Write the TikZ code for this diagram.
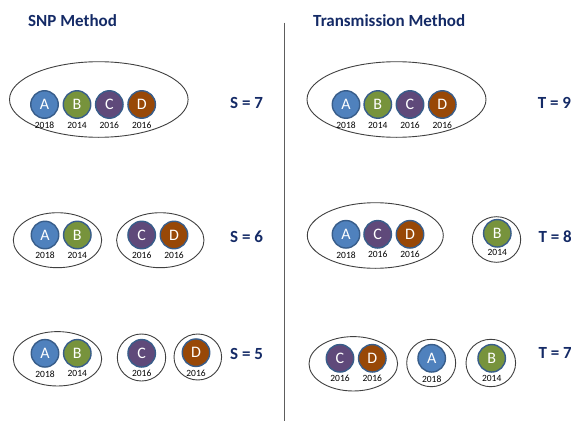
\documentclass[tikz,border=0pt]{standalone}
\usepackage{fontspec}
\setmainfont{Carlito}
\definecolor{navy}{HTML}{142A66}
\definecolor{cA}{HTML}{4F81BD}
\definecolor{cB}{HTML}{77933C}
\definecolor{cC}{HTML}{5F497A}
\definecolor{cD}{HTML}{984807}
\definecolor{rimblue}{HTML}{385D8A}
\definecolor{grp}{HTML}{404040}
\tikzset{
  title/.style={font=\bfseries\fontsize{17}{19}\selectfont, text=navy, anchor=west, inner sep=0},
  score/.style={font=\bfseries\fontsize{17}{19}\selectfont, text=navy, anchor=west, inner sep=0},
  sample/.style={circle, minimum size=27.5pt, inner sep=0, draw=rimblue, line width=1.4pt,
    text=white, font=\fontsize{16}{17}\selectfont},
  yr/.style={font=\fontsize{9.5}{10}\selectfont, inner sep=0},
  group/.style={draw=grp, line width=0.9pt}
}
% a coloured sample circle with its year below it
\newcommand{\sampleat}[6]{%
  \node[sample, fill=#4] (#1) at (#2,#3) {#5};
  \node[yr] (#1y) at (#2,#3+20.5) {#6};}
\begin{document}
\begin{tikzpicture}[x=1pt,y=-1pt]
\useasboundingbox (0,0) rectangle (571,423);
% headings and the divider
\node[title] (snp) at (28,20.5) {SNP Method};
\node[title] (trans) at (313,20.5) {Transmission Method};
\coordinate (divtop) at (284.5,22.5);
\coordinate (divbot) at (284.5,421);
\draw[grp!85, line width=1.2pt] (divtop) -- (divbot);

% ---- SNP method ----
% one group
\draw[group] (98.8,99.5) ellipse [x radius=89.3, y radius=37.8];
\sampleat{sa1}{44.5}{104.5}{cA}{A}{2018}
\sampleat{sb1}{77}{104.5}{cB}{B}{2014}
\sampleat{sc1}{109.3}{104.5}{cC}{C}{2016}
\sampleat{sd1}{141.7}{104.5}{cD}{D}{2016}
\node[score] (s7) at (230,102.7) {S = 7};

% two groups
\draw[group] (57.5,240.2) ellipse [x radius=44.2, y radius=27.5];
\draw[group] (160.3,240.2) ellipse [x radius=43.7, y radius=27.5];
\sampleat{sa2}{45}{235}{cA}{A}{2018}
\sampleat{sb2}{77.3}{235}{cB}{B}{2014}
\sampleat{sc2}{141.7}{235}{cC}{C}{2016}
\sampleat{sd2}{174}{235}{cD}{D}{2016}
\node[score] (s6) at (230,236.7) {S = 6};

% three groups
\draw[group] (57.5,358.8) ellipse [x radius=44.2, y radius=27.2];
\draw[group] (141.5,357.5) ellipse [x radius=24.2, y radius=23.5];
\draw[group] (197.8,357) ellipse [x radius=23.8, y radius=23];
\sampleat{sa3}{45}{353.3}{cA}{A}{2018}
\sampleat{sb3}{77.3}{353.3}{cB}{B}{2014}
\sampleat{sc3}{141.7}{353.3}{cC}{C}{2016}
\sampleat{sd3}{196}{352.7}{cD}{D}{2016}
\node[score] (s5) at (230,354) {S = 5};

% ---- Transmission method ----
\draw[group] (396.5,99.5) ellipse [x radius=89.5, y radius=37.8];
\sampleat{ta1}{346}{104.5}{cA}{A}{2018}
\sampleat{tb1}{377.8}{104.5}{cB}{B}{2014}
\sampleat{tc1}{410}{104.5}{cC}{C}{2016}
\sampleat{td1}{442.3}{104.5}{cD}{D}{2016}
\node[score] (t9) at (537.7,102.7) {T = 9};

\draw[group] (375.3,235.5) ellipse [x radius=68, y radius=32.8];
\draw[group] (496.5,239.5) ellipse [x radius=24.2, y radius=22.8];
\sampleat{ta2}{346}{234.3}{cA}{A}{2018}
\sampleat{tc2}{377.7}{234.3}{cC}{C}{2016}
\sampleat{td2}{410}{234.3}{cD}{D}{2016}
\node[sample, fill=cB] (tb2) at (497.3,233.3) {B};
\node[yr] (tb2y) at (497.3,252) {2014};
\node[score] (t8) at (538.3,236.7) {T = 8};

\draw[group] (353.3,363.8) ellipse [x radius=44.3, y radius=27.2];
\draw[group] (431.2,363) ellipse [x radius=24.5, y radius=23.7];
\draw[group] (490.8,363) ellipse [x radius=24.8, y radius=23.7];
\sampleat{tc3}{340}{358.3}{cC}{C}{2016}
\sampleat{td3}{372.3}{358.3}{cD}{D}{2016}
\sampleat{ta3}{431.7}{358.3}{cA}{A}{2018}
\sampleat{tb3}{491.7}{358.3}{cB}{B}{2014}
\node[score] (t7) at (538.3,353.3) {T = 7};
\end{tikzpicture}
\end{document}
